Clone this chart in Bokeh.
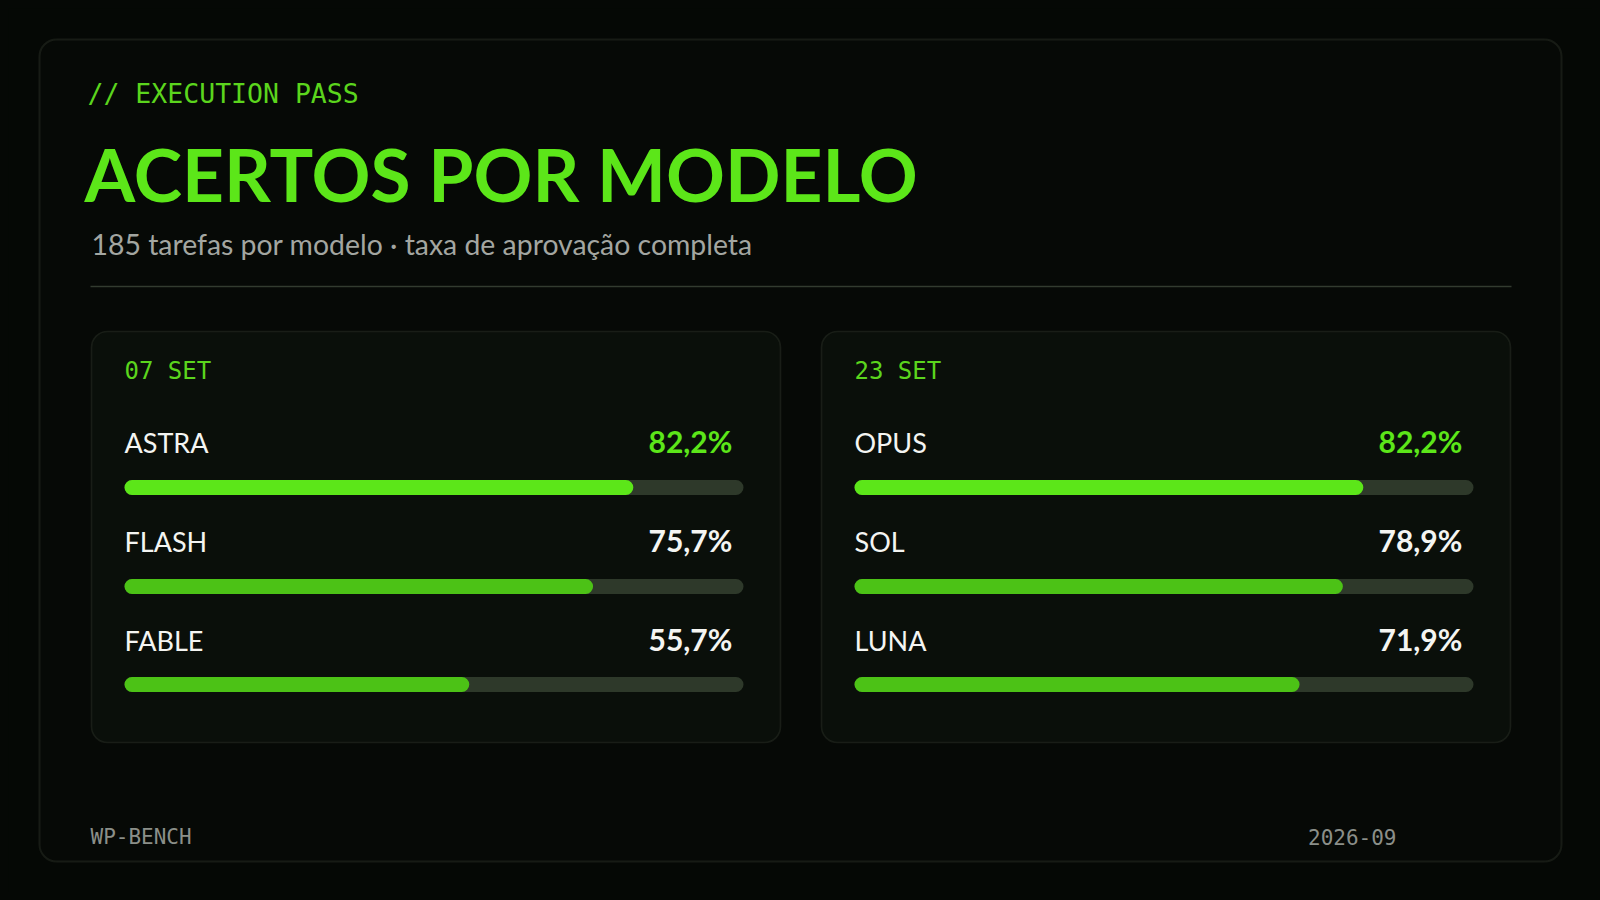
from bokeh.plotting import figure
from bokeh.models import Range1d, BoxAnnotation, Label, ColumnDataSource
from bokeh.core.properties import value
from bokeh.embed import file_html
from bokeh.resources import INLINE

# data
KICKER = "// EXECUTION PASS"
TITLE = "ACERTOS POR MODELO"
SUBTITLE = "185 tarefas por modelo · taxa de aprovação completa"
FOOT_LEFT = "WP-BENCH"
FOOT_RIGHT = "2026-09"

PANEL_DATES = ["07 SET", "23 SET"]
MODELS_A = ["ASTRA", "FLASH", "FABLE"]
SCORES_A = [82.2, 75.7, 55.7]
MODELS_B = ["OPUS", "SOL", "LUNA"]
SCORES_B = [82.2, 78.9, 71.9]

# colours
BG = "#050805"
PANEL_BG = "#0a0f0a"
BORDER = "#414a3d"
RULE = "#323b2f"
TRACK = "#2e392a"
GREEN = "#5ce619"
GREEN_DIM = "#4cc216"
MONO_GREEN = "#5bd51d"
WHITE = "#f4f5f2"
GREY = "#a3a6a1"
FOOT_GREY = "#8b8f89"

W, H = 1584, 884
MONO = "DejaVu Sans Mono"
SANS = "Lato"
SHIFT = 0.38  # Bokeh puts the baseline a little lower than y; pull text up by this share of its size


def Y(py):
    # page pixel row -> data y (y grows upwards)
    return 900 - py


def TY(py, size):
    return Y(py - SHIFT * size)


p = figure(width=W, height=H, output_backend="svg", toolbar_location=None,
           x_range=Range1d(8, 8 + W), y_range=Range1d(8, 8 + H),
           x_axis_location=None, y_axis_location=None, min_border=0)
p.grid.visible = False
p.outline_line_color = None
p.background_fill_color = BG
p.border_fill_color = BG

# outer card
p.add_layout(BoxAnnotation(left=39, right=1561, top=Y(39), bottom=Y(861), level="underlay",
                           fill_color="#060906", fill_alpha=1, line_color=BORDER,
                           line_width=2, border_radius=17))


def label(x, py, text, font, size, color, style="normal", align="left"):
    p.add_layout(Label(x=x, y=TY(py, size), text=text, text_font=font,
                       text_font_size="%spx" % size, text_color=color,
                       text_font_style=style, text_align=align, text_baseline="alphabetic"))


label(87, 103, KICKER, MONO, 26.5, MONO_GREEN)
label(84, 201, TITLE, SANS, 73, GREEN, style="bold")
label(91, 254, SUBTITLE, SANS, 28.4, GREY)
p.segment(x0=[90], x1=[1511], y0=[Y(286)], y1=[Y(286)], line_color=RULE, line_width=1.5)

label(90, 844, FOOT_LEFT, MONO, 21, FOOT_GREY)
label(1396, 844, FOOT_RIGHT, MONO, 21, FOOT_GREY, align="right")

# panels
PANEL_X = [91, 821]
PANEL_W = 689
PANEL_TOP, PANEL_BOTTOM = 331, 742
TRACK_OFF = 33
TRACK_W = 619
ROW_TEXT = [452, 551, 650]
ROW_BAR = [487, 586, 684]
BAR_H = 15
NAME_SIZE = 27
VAL_SIZE = 30

for i, (models, scores) in enumerate([(MODELS_A, SCORES_A), (MODELS_B, SCORES_B)]):
    px = PANEL_X[i]
    p.add_layout(BoxAnnotation(left=px, right=px + PANEL_W, top=Y(PANEL_TOP), bottom=Y(PANEL_BOTTOM),
                               level="underlay", fill_color=PANEL_BG, fill_alpha=1,
                               line_color=BORDER, line_width=1.6, border_radius=16))
    label(px + TRACK_OFF, 380, PANEL_DATES[i], MONO, 24, MONO_GREEN)

    # percent scale for this panel: 0 at track start, 100 at track end
    k = TRACK_W / 100
    start = -(px + TRACK_OFF - 8) / k
    name = "panel%d" % i
    p.extra_x_ranges[name] = Range1d(start, start + W / k)

    best = max(scores)
    src = ColumnDataSource(dict(
        model=models,
        score=scores,
        full=[100] * len(scores),
        zero=[0] * len(scores),
        ybar=[Y(v) for v in ROW_BAR],
        yname=[TY(v, NAME_SIZE) for v in ROW_TEXT],
        yval=[TY(v, VAL_SIZE) for v in ROW_TEXT],
        label=[("%.1f%%" % s).replace(".", ",") for s in scores],
        val_color=[GREEN if s == best else WHITE for s in scores],
        bar_color=[GREEN if s == best else GREEN_DIM for s in scores],
    ))
    p.hbar(y="ybar", left="zero", right="full", height=BAR_H, source=src, x_range_name=name,
           fill_color=TRACK, line_color=None, border_radius=8)
    p.hbar(y="ybar", left="zero", right="score", height=BAR_H, source=src, x_range_name=name,
           fill_color="bar_color", line_color=None, border_radius=8)
    p.text(x="zero", y="yname", text="model", source=src, x_range_name=name,
           text_font=value(SANS), text_font_size="%dpx" % NAME_SIZE, text_color=WHITE,
           text_baseline="alphabetic")
    p.text(x=98.2, y="yval", text="label", source=src, x_range_name=name,
           text_font=value(SANS), text_font_style="bold", text_font_size="%dpx" % VAL_SIZE,
           text_color="val_color", text_align="right", text_baseline="alphabetic")

html = file_html(p, INLINE, title="Acertos por modelo")
html = html.replace("<body>", '<body style="background:%s;margin:8px;">' % BG)
open("out.html", "w").write(html)
